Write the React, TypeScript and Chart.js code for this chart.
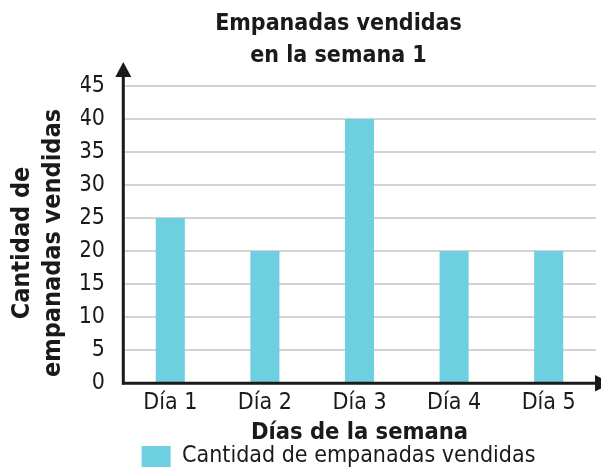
import React, { useEffect, useRef } from "react";
import { Chart, registerables } from "chart.js";

Chart.register(...registerables);

const categories = ["Día 1", "Día 2", "Día 3", "Día 4", "Día 5"];
const seriesValues = [25, 20, 40, 20, 20];
const seriesLabel = "Cantidad de empanadas vendidas";
const titleLines = ["Empanadas vendidas", "en la semana 1"];
const xTitle = "Días de la semana";
const yTitleLines = ["Cantidad de", "empanadas vendidas"];
const yMax = 45;
const yStep = 5;

const FONT = "'DejaVu Sans Condensed', 'DejaVu Sans', Verdana, sans-serif";
const INK = "#1a1a1a";
const BAR = "#6dcfdf";

const axesPlugin = {
  id: "axesArrows",
  afterDraw(chart: any) {
    const { ctx, chartArea } = chart;
    const { left, right, bottom, top } = chartArea;
    ctx.save();
    ctx.strokeStyle = INK;
    ctx.fillStyle = INK;
    ctx.lineWidth = 3;
    // y axis
    ctx.beginPath();
    ctx.moveTo(left + 0.3, bottom + 1.5);
    ctx.lineTo(left + 0.3, top - 10);
    ctx.stroke();
    ctx.beginPath();
    ctx.moveTo(left + 0.3, top - 24);
    ctx.lineTo(left - 7.7, top - 9);
    ctx.lineTo(left + 8.3, top - 9);
    ctx.closePath();
    ctx.fill();
    // x axis
    ctx.beginPath();
    ctx.moveTo(left - 1, bottom + 0.3);
    ctx.lineTo(right, bottom + 0.3);
    ctx.stroke();
    ctx.beginPath();
    ctx.moveTo(right + 15, bottom + 0.3);
    ctx.lineTo(right - 1, bottom - 8);
    ctx.lineTo(right - 1, bottom + 8.6);
    ctx.closePath();
    ctx.fill();
    // y title
    ctx.font = `bold 25px ${FONT}`;
    ctx.textAlign = "center";
    ctx.textBaseline = "middle";
    const cy = 243;
    const xs = [22.5, 53];
    yTitleLines.forEach((t, i) => {
      ctx.save();
      ctx.translate(xs[i], cy);
      ctx.rotate(-Math.PI / 2);
      ctx.fillText(t, 0, 0);
      ctx.restore();
    });
    ctx.restore();
  },
};

export default function App() {
  const ref = useRef<HTMLCanvasElement | null>(null);
  useEffect(() => {
    document.body.style.margin = "0";
    if (!ref.current) return;
    Chart.defaults.font.family = FONT;
    Chart.defaults.color = INK;
    const chart = new Chart(ref.current, {
      type: "bar",
      data: {
        labels: categories,
        datasets: [
          {
            label: seriesLabel,
            data: seriesValues,
            backgroundColor: BAR,
            borderWidth: 0,
            categoryPercentage: 1,
            barPercentage: 0.307,
          },
        ],
      },
      options: {
        responsive: false,
        animation: false,
        layout: { padding: { left: 81, right: 5, top: 0, bottom: -6 } },
        plugins: {
          tooltip: { enabled: false },
          title: {
            display: true,
            text: titleLines,
            color: INK,
            font: { family: FONT, size: 23, weight: "bold", lineHeight: 1.35 },
            padding: { top: 9, bottom: 15 },
          },
          legend: {
            display: true,
            position: "bottom",
            labels: {
              boxWidth: 29,
              boxHeight: 21,
              padding: 0,
              color: INK,
              font: { family: FONT, size: 23 },
            },
          },
        },
        scales: {
          x: {
            grid: { display: false, drawTicks: false },
            border: { display: false },
            ticks: { padding: 6, color: INK, font: { family: FONT, size: 23 } },
            title: {
              display: true,
              text: xTitle,
              color: INK,
              font: { family: FONT, size: 23.5, weight: "bold", lineHeight: 1 },
              padding: 0,
            },
            afterFit: (scale: any) => {
              scale.height = 62;
            },
          },
          y: {
            min: 0,
            max: yMax,
            grid: { color: "#d3d3d3", lineWidth: 2, drawTicks: false },
            border: { display: false },
            ticks: {
              stepSize: yStep,
              padding: 18,
              color: INK,
              font: { family: FONT, size: 23 },
            },
            afterFit: (scale: any) => {
              scale.width = 42;
            },
          },
        },
      },
      plugins: [axesPlugin],
    });
    return () => chart.destroy();
  }, []);
  return (
    <div style={{ width: 601, height: 472, position: "relative" }}>
      <canvas ref={ref} width={601} height={472} style={{ display: "block" }} />
    </div>
  );
}
